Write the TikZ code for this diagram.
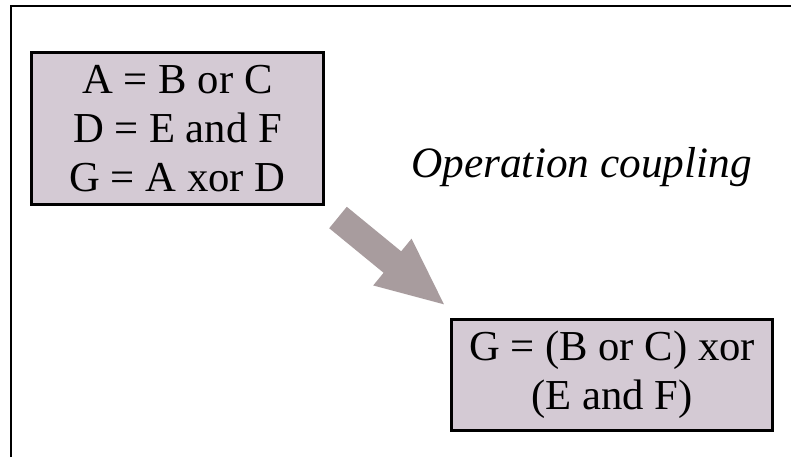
\documentclass[tikz,border=0pt]{standalone}
\usepackage{fontspec}
\setmainfont{Liberation Serif}
\usetikzlibrary{arrows.meta}
\definecolor{boxfill}{RGB}{212,202,212}
\definecolor{arrowgray}{RGB}{168,156,158}

\begin{document}
\begin{tikzpicture}[
  x=0.75pt, y=-0.75pt,
  box/.style={rectangle, draw, line width=2pt, fill=boxfill, align=center, inner sep=0pt, font=\fontsize{32}{36.75}\selectfont},
  bigarr/.style={-{Triangle[length=52pt,width=41pt]}, line width=20.8pt, draw=arrowgray}
]
\useasboundingbox (0,0) rectangle (791,457);
\draw[line width=1.8pt] (11,457) -- (11,6) -- (791,6);

\node[box, minimum width=219.3pt, minimum height=114.3pt] (defs) at (177.5,128.5) {A = B or C\\ D = E and F\\ G = A xor D};
\node[box, minimum width=241pt, minimum height=83.5pt] (result) at (612,375) {G = (B or C) xor\\ (E and F)};
\node[anchor=base west, inner sep=0pt, font=\fontsize{32.5}{40}\selectfont\itshape] (coupling) at (411,177) {Operation coupling};

\coordinate (tail) at (338,217.5);
\coordinate (tip) at (446,306);
\draw[bigarr] (tail) -- (tip);
\end{tikzpicture}
\end{document}
